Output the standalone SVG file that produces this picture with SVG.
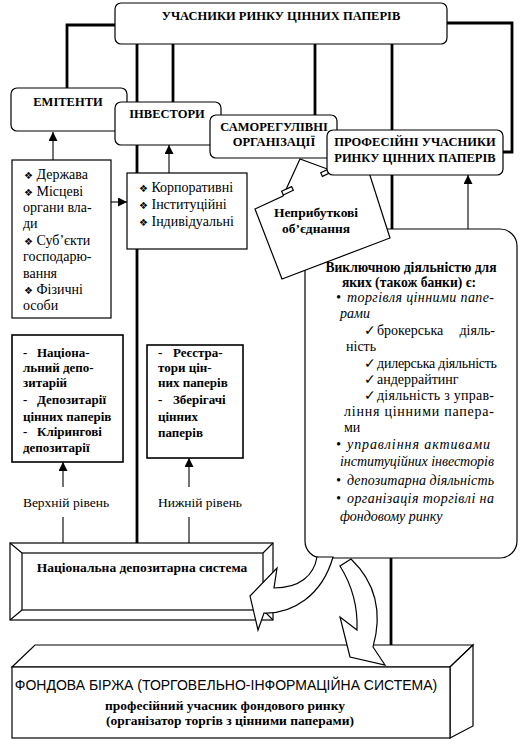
<svg xmlns="http://www.w3.org/2000/svg" width="524" height="748" viewBox="0 0 524 748">
<defs>
<style>
.box{fill:#fff;stroke:#000;stroke-width:1.2}
.thick{stroke:#000;stroke-width:2.8;fill:none}
.thin{stroke:#000;stroke-width:1.1;fill:none}
.hdr{font-family:"Liberation Serif","DejaVu Serif",serif;font-weight:bold;font-size:12.5px;text-anchor:middle}
.t{font-family:"Liberation Serif","DejaVu Serif",serif;font-size:14px}
.b{font-family:"Liberation Serif","DejaVu Serif",serif;font-size:13px;font-weight:bold}
.i{font-family:"Liberation Serif","DejaVu Serif",serif;font-size:14px;font-style:italic}
.sym{font-family:"DejaVu Sans",sans-serif;font-size:10px}
.chk{font-family:"DejaVu Sans",sans-serif;font-size:14px;font-weight:bold}
.ctr{text-anchor:middle}
</style>
<marker id="ah" viewBox="0 0 10 10" refX="10" refY="5" markerWidth="9" markerHeight="9" markerUnits="userSpaceOnUse" orient="auto">
<path d="M0,0 L10,5 L0,10 Z" fill="#000"/>
</marker>
</defs>
<rect width="524" height="748" fill="#fff"/>

<g id="connectors">
<polyline class="thick" points="115,25 67,25 67,88"/>
<polyline class="thick" points="447,23 512,23 512,152 503,152"/>
<line class="thick" x1="137" y1="44" x2="137" y2="543"/>
<line class="thick" x1="173" y1="44" x2="173" y2="102"/>
<line class="thick" x1="315" y1="44" x2="315" y2="115"/>
<line class="thick" x1="392" y1="44" x2="392" y2="130"/>
<line class="thick" x1="392" y1="175" x2="392" y2="229"/>
<line class="thick" x1="391" y1="558" x2="391" y2="645"/>
<line class="thin" x1="53" y1="160" x2="53" y2="132" marker-end="url(#ah)"/>
<line class="thin" x1="111" y1="202" x2="127" y2="202" marker-end="url(#ah)"/>
<line class="thin" x1="169" y1="173" x2="169" y2="145" marker-end="url(#ah)"/>
<line class="thin" x1="468" y1="229" x2="468" y2="175" marker-end="url(#ah)"/>
<line class="thin" x1="63" y1="487" x2="63" y2="462" marker-end="url(#ah)"/>
<line class="thin" x1="63" y1="517" x2="63" y2="543"/>
<line class="thin" x1="189" y1="487" x2="189" y2="458" marker-end="url(#ah)"/>
<line class="thin" x1="189" y1="517" x2="189" y2="543"/>
</g>

<g id="top">
<rect class="box" x="115" y="3" width="332" height="41" rx="6"/>
<text class="hdr" x="281" y="20">УЧАСНИКИ РИНКУ ЦІННИХ ПАПЕРІВ</text>
</g>

<g id="emitenty">
<rect class="box" x="11" y="88" width="116" height="43" rx="6"/>
<text class="hdr" x="68" y="106">ЕМІТЕНТИ</text>
</g>

<g id="investory">
<rect class="box" x="115" y="102" width="106" height="43" rx="6"/>
<text class="hdr" x="167" y="118">ІНВЕСТОРИ</text>
</g>

<g id="samoreg">
<rect class="box" x="210" y="115" width="127" height="43" rx="6"/>
<text class="hdr" x="274" y="131">САМОРЕГУЛІВНІ</text>
<text class="hdr" x="274" y="146">ОРГАНІЗАЦІЇ</text>
</g>

<g id="vykl">
<rect class="box" x="305" y="229" width="212" height="329" rx="17"/>
<text class="b ctr" x="411" y="272" style="font-size:13.6px">Виключною діяльністю для</text>
<text class="b ctr" x="409" y="287" style="font-size:13.6px">яких (також банки) є:</text>
<text class="i" x="336" y="302">•</text>
<text class="i" x="347" y="302" textLength="147" lengthAdjust="spacing">торгівля цінними папе-</text>
<text class="i" x="340" y="318">рами</text>
<text class="chk" x="364" y="335">✓</text>
<text class="t" x="377" y="335">брокерська</text>
<text class="t" x="495" y="335" text-anchor="end">діяль-</text>
<text class="t" x="346" y="351">ність</text>
<text class="chk" x="364" y="368">✓</text>
<text class="t" x="377" y="368" textLength="120" lengthAdjust="spacing">дилерська діяльність</text>
<text class="chk" x="364" y="384">✓</text>
<text class="t" x="377" y="384">андеррайтинг</text>
<text class="chk" x="364" y="400">✓</text>
<text class="t" x="377" y="400" textLength="117" lengthAdjust="spacing">діяльність з управ-</text>
<text class="t" x="344" y="416" textLength="150" lengthAdjust="spacing">ління цінними папера-</text>
<text class="t" x="344" y="432">ми</text>
<text class="i" x="336" y="449">•</text>
<text class="i" x="347" y="449" textLength="143" lengthAdjust="spacing">управління активами</text>
<text class="i" x="340" y="466" textLength="154" lengthAdjust="spacing">інституційних інвесторів</text>
<text class="i" x="336" y="485">•</text>
<text class="i" x="347" y="485" textLength="147" lengthAdjust="spacing">депозитарна діяльність</text>
<text class="i" x="336" y="503">•</text>
<text class="i" x="347" y="503" textLength="147" lengthAdjust="spacing">організація торгівлі на</text>
<text class="i" x="340" y="521">фондовому ринку</text>
</g>

<g id="nepryb">
<polygon class="box" points="255,209 283,196 300,159 330,170 366,163 390,238 282,279"/>
<rect class="box" x="282" y="189" width="11" height="4" transform="rotate(-25 287 191)"/>
<rect class="box" x="321" y="170" width="12" height="4" transform="rotate(-25 327 172)"/>
<text class="b ctr" x="316" y="217" style="font-size:13.5px">Неприбуткові</text>
<text class="b ctr" x="316" y="233" style="font-size:13.5px">об’єднання</text>
</g>

<g id="prof">
<rect class="box" x="327" y="130" width="176" height="45" rx="6"/>
<text class="hdr" x="415" y="146">ПРОФЕСІЙНІ УЧАСНИКИ</text>
<text class="hdr" x="415" y="162">РИНКУ ЦІННИХ ПАПЕРІВ</text>
</g>

<g id="derzhava">
<rect class="box" x="12" y="160" width="99" height="158"/>
<text class="t" x="24" y="179"><tspan class="sym">❖</tspan> Держава</text>
<text class="t" x="24" y="196"><tspan class="sym">❖</tspan> Місцеві</text>
<text class="t" x="23" y="212">органи вла-</text>
<text class="t" x="23" y="228">ди</text>
<text class="t" x="24" y="245"><tspan class="sym">❖</tspan> Суб’єкти</text>
<text class="t" x="23" y="261">господарю-</text>
<text class="t" x="23" y="278">вання</text>
<text class="t" x="24" y="294"><tspan class="sym">❖</tspan> Фізичні</text>
<text class="t" x="23" y="310">особи</text>
</g>

<g id="korpor">
<rect class="box" x="127" y="173" width="120" height="76"/>
<text class="t" x="139" y="192"><tspan class="sym">❖</tspan> Корпоративні</text>
<text class="t" x="139" y="209"><tspan class="sym">❖</tspan> Інституційні</text>
<text class="t" x="139" y="226"><tspan class="sym">❖</tspan> Індивідуальні</text>
</g>

<g id="nacdep">
<rect class="box" x="12" y="335" width="111" height="127" style="stroke-width:1.6"/>
<text class="b" x="23" y="357">-<tspan x="37">Націона-</tspan></text>
<text class="b" x="23" y="372">льний депо-</text>
<text class="b" x="23" y="387">зитарій</text>
<text class="b" x="23" y="404">-<tspan x="37">Депозитарії</tspan></text>
<text class="b" x="23" y="421">цінних паперів</text>
<text class="b" x="23" y="436">-<tspan x="37">Клірингові</tspan></text>
<text class="b" x="23" y="452">депозитарії</text>
</g>

<g id="reestr">
<rect class="box" x="147" y="345" width="96" height="113" style="stroke-width:1.6"/>
<text class="b" x="158" y="357">-<tspan x="173">Реєстра-</tspan></text>
<text class="b" x="158" y="372">тори цін-</text>
<text class="b" x="158" y="387">них паперів</text>
<text class="b" x="158" y="404">-<tspan x="173">Зберігачі</tspan></text>
<text class="b" x="158" y="421">цінних</text>
<text class="b" x="158" y="437">паперів</text>
</g>

<g id="levels">
<text class="t ctr" x="66" y="507" style="font-size:13.5px">Верхній рівень</text>
<text class="t ctr" x="200" y="507" style="font-size:13.5px">Нижній рівень</text>
</g>

<g id="nds">
<rect class="box" x="10" y="543" width="263" height="77"/>
<rect class="box" x="22" y="553" width="241" height="57"/>
<path class="thin" d="M10,543 L22,553 M273,543 L263,553 M10,620 L22,610 M273,620 L263,610"/>
<text class="b ctr" x="142" y="572" style="font-size:13.5px">Національна депозитарна система</text>
</g>

<g id="birzha">
<polygon class="box" points="12,667 35,645 473,645 450,667"/>
<polygon class="box" points="450,667 473,645 473,726 450,738"/>
<rect class="box" x="12" y="667" width="438" height="71"/>
<text x="226" y="690" text-anchor="middle" style="font-family:'Liberation Sans',Arial,sans-serif;font-size:14px">ФОНДОВА БІРЖА (ТОРГОВЕЛЬНО-ІНФОРМАЦІЙНА СИСТЕМА)</text>
<text class="b ctr" x="225" y="710" style="font-size:13.5px">професійний учасник фондового ринку</text>
<text class="b ctr" x="230" y="725" style="font-size:13.5px">(організатор торгів з цінними паперами)</text>
</g>

<g id="curved-arrows">
<path class="box" d="M317,557 C314,575 300,588 274,588 L277,568 L250,596 L258,630 L264,613 C292,614 322,596 333,557 Z"/>
<path class="box" d="M340,566 C350,582 358,605 357,630 L340,617 L350,657 L385,665 L373,647 C382,615 378,585 351,559 Z"/>
</g>
</svg>
